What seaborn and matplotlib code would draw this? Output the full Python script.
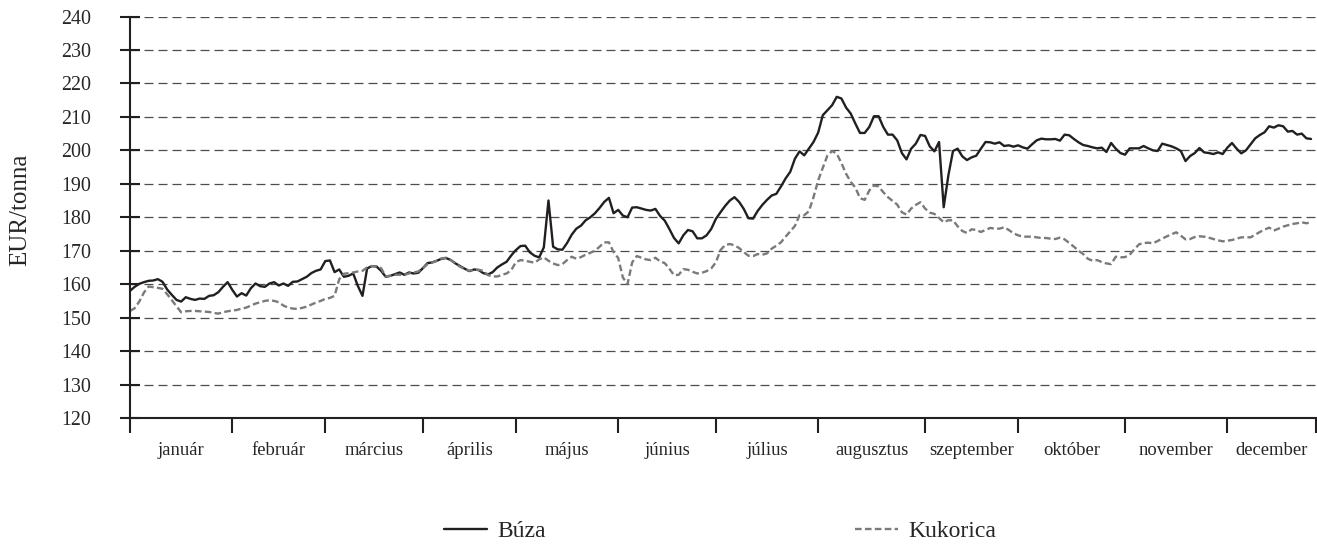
import numpy as np
import pandas as pd
import matplotlib
matplotlib.use("Agg")
import matplotlib.pyplot as plt
import seaborn as sns

# Monthly labels and number of trading days in each month
months = ["január", "február", "március", "április", "május", "június",
          "július", "augusztus", "szeptember", "október", "november", "december"]
month_days = [22, 20, 21, 20, 22, 21, 22, 23, 20, 23, 22, 19]

# Daily prices, EUR/tonna
buza = [
    # jan
    158.0, 159.2, 160.1, 160.6, 161.0, 161.1, 161.5, 160.7, 158.4, 156.8, 155.3,
    154.8, 156.1, 155.6, 155.3, 155.7, 155.6, 156.5, 156.7, 157.6, 159.2, 160.6,
    # feb
    158.3, 156.3, 157.3, 156.6, 158.8, 160.2, 159.4, 159.2, 160.2, 160.6,
    159.6, 160.2, 159.5, 160.7, 160.8, 161.5, 162.2, 163.3, 164.0, 164.4,
    # mar
    166.9, 167.1, 163.6, 164.4, 162.2, 162.5, 163.2, 159.5, 156.5, 164.7, 165.4,
    165.3, 164.0, 162.2, 162.5, 163.0, 163.5, 162.8, 163.5, 163.2, 163.4,
    # apr
    164.8, 166.3, 166.5, 167.0, 167.6, 167.8, 167.2, 166.2, 165.4, 164.6,
    163.9, 164.4, 164.2, 163.3, 162.9, 163.6, 165.0, 165.9, 166.7, 168.6,
    # maj
    170.2, 171.4, 171.5, 169.5, 168.5, 168.0, 171.0, 185.0, 171.2, 170.4, 170.3,
    172.3, 174.8, 176.6, 177.5, 179.1, 180.0, 181.2, 182.8, 184.6, 185.8, 181.2,
    # jun
    182.2, 180.5, 180.0, 182.9, 183.0, 182.6, 182.2, 182.0, 182.5, 180.4, 179.0,
    176.5, 173.8, 172.2, 174.6, 176.2, 175.8, 173.7, 173.7, 174.6, 176.5,
    # jul
    179.5, 181.5, 183.4, 185.0, 186.0, 184.6, 182.5, 179.7, 179.6, 181.9, 183.7,
    185.2, 186.5, 187.0, 189.2, 191.6, 193.6, 197.5, 199.7, 198.5, 200.5, 202.5,
    # aug
    205.3, 210.5, 212.0, 213.5, 216.0, 215.5, 212.8, 211.0, 208.0, 205.2, 205.2, 207.0,
    210.2, 210.2, 207.0, 204.7, 204.7, 203.0, 199.2, 197.3, 200.5, 202.0, 204.6,
    # szep
    204.3, 201.2, 199.7, 202.5, 183.0, 192.5, 199.8, 200.5, 198.2, 197.1,
    197.9, 198.4, 200.5, 202.5, 202.4, 202.0, 202.4, 201.3, 201.5, 201.1,
    # okt
    201.5, 200.9, 200.5, 201.8, 203.0, 203.5, 203.3, 203.3, 203.4, 202.9, 204.7, 204.5,
    203.4, 202.4, 201.6, 201.3, 200.9, 200.6, 200.8, 199.5, 202.2, 200.5, 199.2,
    # nov
    198.7, 200.6, 200.6, 200.6, 201.3, 200.6, 200.0, 199.8, 202.0, 201.6, 201.2,
    200.6, 199.8, 196.8, 198.3, 199.2, 200.7, 199.4, 199.2, 198.9, 199.4, 198.9,
    # dec
    200.8, 202.2, 200.5, 199.1, 200.0, 201.8, 203.6, 204.6, 205.4, 207.2,
    206.8, 207.5, 207.2, 205.6, 205.8, 204.7, 205.0, 203.6, 203.4,
]

kukorica = [
    # jan
    152.0, 152.8, 154.8, 157.5, 159.3, 159.1, 158.9, 158.6, 157.0, 155.2, 153.4,
    151.6, 151.9, 152.0, 152.0, 151.9, 151.8, 151.7, 151.4, 151.2, 151.6, 151.9,
    # feb
    152.1, 152.3, 152.7, 153.0, 153.6, 154.2, 154.6, 155.0, 155.2, 155.0,
    154.6, 153.6, 153.0, 152.7, 152.6, 152.9, 153.3, 153.9, 154.5, 155.0,
    # mar
    155.6, 155.9, 156.5, 161.5, 163.1, 163.3, 163.5, 163.8, 164.0, 165.0, 165.4,
    165.3, 164.8, 162.3, 162.5, 162.8, 162.8, 162.8, 163.2, 163.5, 163.8,
    # apr
    164.8, 166.0, 166.5, 167.0, 167.7, 167.9, 167.2, 166.2, 165.2, 164.5,
    164.0, 164.3, 164.3, 164.0, 162.7, 162.3, 162.3, 162.8, 163.2, 164.2,
    # maj
    166.6, 167.2, 167.0, 166.7, 166.4, 167.4, 168.0, 167.0, 166.2, 165.7, 166.0,
    167.2, 168.2, 167.6, 168.1, 168.8, 169.4, 170.0, 171.2, 172.5, 172.5, 169.6,
    # jun
    167.8, 162.0, 160.0, 166.5, 168.4, 167.9, 167.4, 167.2, 167.9, 166.8, 166.3,
    164.6, 162.7, 162.8, 164.5, 164.3, 163.7, 163.2, 163.4, 163.9, 164.7,
    # jul
    166.5, 170.2, 171.7, 172.0, 171.6, 170.8, 169.6, 168.5, 168.4, 169.0, 168.8,
    169.2, 170.6, 171.5, 172.5, 174.2, 175.8, 177.4, 180.6, 180.6, 181.8, 186.0,
    # aug
    191.0, 194.8, 198.5, 199.8, 199.0, 196.2, 193.0, 190.6, 188.9, 185.7, 185.2, 188.0,
    189.5, 189.2, 187.5, 186.0, 184.9, 183.8, 181.5, 180.8, 182.6, 183.7, 184.5,
    # szep
    182.6, 181.4, 181.0, 179.8, 178.5, 179.1, 179.1, 177.3, 175.9, 175.3,
    176.4, 176.2, 175.6, 176.2, 176.8, 176.6, 176.6, 177.0, 176.2, 175.2,
    # okt
    174.6, 174.2, 174.2, 174.2, 174.0, 173.8, 173.8, 173.6, 173.5, 173.9, 173.4, 172.3,
    171.2, 170.0, 169.0, 167.6, 167.0, 167.2, 166.6, 166.2, 166.0, 168.2, 168.0,
    # nov
    168.1, 168.8, 170.4, 171.9, 172.3, 172.4, 172.2, 172.9, 173.6, 174.3, 174.9,
    175.5, 174.5, 173.4, 173.5, 174.1, 174.3, 174.2, 173.9, 173.5, 173.1, 172.8,
    # dec
    173.0, 173.2, 173.6, 174.0, 174.0, 174.0, 174.8, 175.6, 176.3, 176.9,
    176.0, 176.6, 177.2, 177.6, 178.0, 178.2, 178.5, 178.2, 178.5,
]

n_days = sum(month_days)
assert len(buza) == n_days and len(kukorica) == n_days

df = pd.DataFrame({"nap": np.arange(n_days), "Búza": buza, "Kukorica": kukorica})

sns.set_style("white")
plt.rcParams["font.family"] = ["Liberation Serif", "DejaVu Serif"]

fig = plt.figure(figsize=(13.17, 5.51), dpi=100)
ax = fig.add_axes([0.0987, 0.2414, 0.9003, 0.7286])

sns.lineplot(data=df, x="nap", y="Búza", ax=ax, color="#231f20", lw=1.7, label="Búza")
sns.lineplot(data=df, x="nap", y="Kukorica", ax=ax, color="#7a7a7a", lw=1.7,
             linestyle=(0, (2.8, 1.4)), label="Kukorica")

ax.set_ylim(120, 240)
ax.set_yticks(np.arange(120, 241, 10))
ax.set_xlim(0, n_days)

# month boundaries as ticks, names centred between them
bounds = np.concatenate([[0], np.cumsum(month_days)])
centers = (bounds[:-1] + bounds[1:]) / 2
ax.set_xticks(bounds)
ax.set_xticklabels([])
ax.set_xticks(centers, minor=True)
ax.set_xticklabels(months, minor=True, fontsize=13.4)
ax.tick_params(axis="x", which="major", bottom=True, direction="out", length=11,
               width=1.5, color="#231f20")
ax.tick_params(axis="x", which="minor", bottom=True, length=0, pad=17)
ax.tick_params(axis="y", which="major", left=True, direction="inout", length=14,
               width=1.5, color="#231f20", labelsize=14.4, pad=21)

for sp in ["top", "right"]:
    ax.spines[sp].set_visible(False)
for sp in ["left", "bottom"]:
    ax.spines[sp].set_color("#231f20")
    ax.spines[sp].set_linewidth(1.5)

ax.yaxis.grid(True, color="#4d4d4d", lw=0.9, linestyle=(0, (7.2, 4.0)))
ax.xaxis.grid(False)
ax.set_axisbelow(True)

ax.set_xlabel("")
ax.set_ylabel("EUR/tonna", fontsize=18)
ax.yaxis.set_label_coords(-0.083, 0.519)

ax.get_legend().remove()
handles, labels = ax.get_legend_handles_labels()
fig.legend(handles, labels, loc="center", bbox_to_anchor=(0.547, 0.036), ncol=2,
           frameon=False, fontsize=17, handlelength=1.8, handletextpad=0.45,
           columnspacing=13.1)

fig.savefig("out.png", dpi=100)
